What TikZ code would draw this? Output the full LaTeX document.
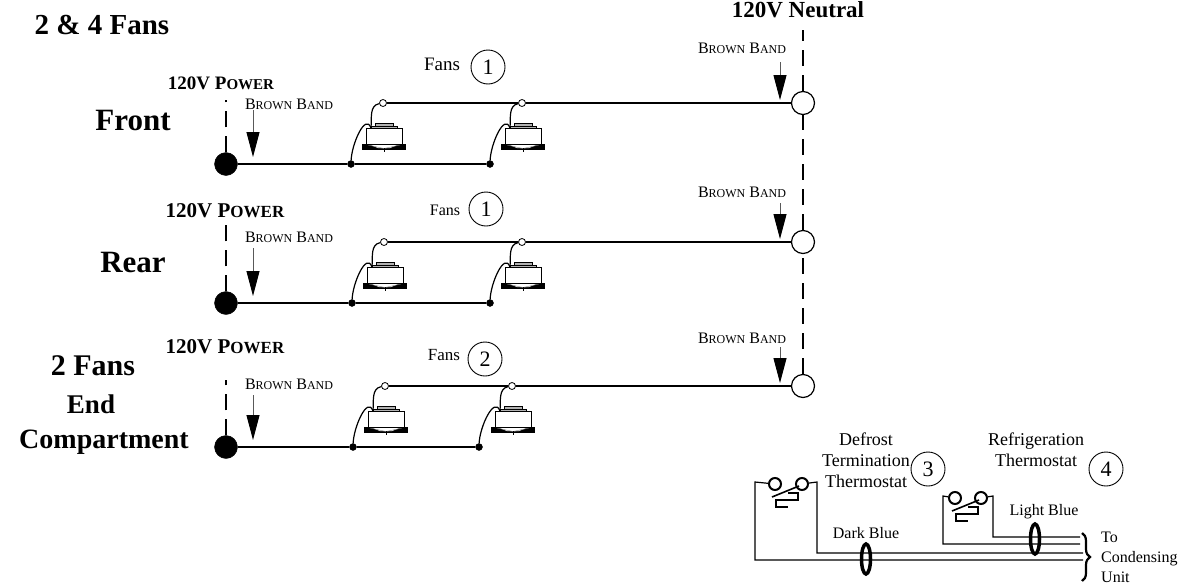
\documentclass[tikz,border=0pt]{standalone}
\usepackage{fontspec}
\setmainfont{Liberation Serif}
\usetikzlibrary{arrows.meta,decorations.pathreplacing,shapes.geometric}

\newcommand{\fsz}[1]{\fontsize{#1}{#1}\selectfont}
\newcommand{\smc}[2]{{\fsz{#1}#2}}

\tikzset{
  wire/.style={line width=1.2pt},
  hotwire/.style={line width=2.2pt},
  dashwire/.style={line width=2.2pt,dash pattern=on 16pt off 9pt},
  band/.style={gray!70!black,line width=1pt,-{Triangle[length=25pt,width=13pt,black]}},
  tie/.style={draw,line width=3.5pt,ellipse,minimum width=9pt,minimum height=30pt,inner sep=0pt,fill=none},
  power/.style={circle,draw,fill=black,minimum size=23pt,inner sep=0pt},
  neutral/.style={circle,draw,fill=white,line width=1.2pt,minimum size=23pt,inner sep=0pt},
  junct/.style={circle,draw,fill=black,minimum size=7pt,inner sep=0pt},
  openpt/.style={circle,draw,fill=white,line width=.8pt,minimum size=7pt,inner sep=0pt},
  callout/.style={circle,draw,line width=.9pt,minimum size=34pt,inner sep=0pt,font=\fsz{22}},
  contact/.style={circle,draw,line width=2pt,minimum size=12pt,inner sep=0pt},
  head/.style={font=\fsz{29}\bfseries,inner sep=0pt},
  small/.style={font=\fsz{16},inner sep=0pt,align=center},
  fan/.pic={
    \fill[black] (-22,16) rectangle (22,22);
    \fill[white] (-16,16) -- (16,16) -- (6,20) -- (-6,20) -- cycle;
    \draw[gray] (-16,17) -- (0,20.5) -- (16,17);
    \draw[line width=1pt] (0,20) -- (0,24);
    \draw[line width=.8pt,fill=gray!60] (-9,-5) rectangle (9,-2);
    \draw[line width=.8pt,fill=gray!60] (-13,-2) rectangle (13,0);
    \draw[fill=white,line width=1pt] (-18,0) rectangle (18,16);
    \coordinate (-t) at (-13,0);
  },
  switch/.pic={
    \draw[line width=1.6pt] (-15,13) -- (12,2);
    \draw[line width=1.3pt] (1,9) -- (11,9) -- (11,16) -- (-11,16) -- (-11,23) -- (1,23);
  },
}

\begin{document}
\begin{tikzpicture}[x=1pt,y=-1pt]
\useasboundingbox (0,0) rectangle (1181,584);

% neutral bus
\coordinate (ntop) at (803,30);
\foreach \r/\yb/\yt/\xa/\xb/\fa/\fb/\yh/\ya/\yc/\yd/\yn/\ye/\yf in {
  1/164/103/351/490/384/523/100/110/157/48/62/100/104,
  2/303/242/352/490/385/523/225/248/296/192/203/239/237,
  3/447/386/353/479/386/513/380/395/440/338/347/383/384}{
  \node[power] (p\r) at (226,\yb) {};
  \node[neutral] (n\r) at (803,\yt) {};
  \node[junct] (ja\r) at (\xa,\yb) {};
  \node[junct] (jb\r) at (\xb,\yb) {};
  \node[openpt] (oa\r) at (\fa-1,\yt) {};
  \node[openpt] (ob\r) at (\fb-1,\yt) {};
  \pic (fa\r) at (\fa,\yt+25) {fan};
  \pic (fb\r) at (\fb,\yt+25) {fan};
  \draw[wire] (p\r) -- (ja\r) -- (jb\r);
  \draw[hotwire] (oa\r) -- (ob\r) -- (n\r);
  \draw[wire] (ja\r) to[out=88,in=110,looseness=1.1] (fa\r-t);
  \draw[wire] (jb\r) to[out=88,in=110,looseness=1.1] (fb\r-t);
  \draw[wire] (oa\r) to[out=190,in=85] (fa\r-t);
  \draw[wire] (ob\r) to[out=190,in=85] (fb\r-t);
  \coordinate (dt\r) at (226,\yh);
  \draw[dashwire] (p\r) -- (dt\r);
  \coordinate (as\r) at (253,\ya);
  \coordinate (ae\r) at (253,\yc);
  \draw[band] (as\r) -- (ae\r);
  \coordinate (bs\r) at (780,\yn);
  \coordinate (be\r) at (780,\ye);
  \draw[band] (bs\r) -- (be\r);
  \node[small] (bl\r) at (742,\yd) {B\smc{12}{ROWN} B\smc{12}{AND}};
  \node[small] (al\r) at (289,\yf) {B\smc{12}{ROWN} B\smc{12}{AND}};
}
\draw[dashwire] (n1) -- (ntop);
\draw[dashwire] (n2) -- (n1);
\draw[dashwire] (n3) -- (n2);

% titles
\node[head] (title) at (102,25) {2 \& 4 Fans};
\node[head,font=\fsz{23}\bfseries] (neut) at (798,10) {120V Neutral};
\node[head,font=\fsz{31}\bfseries] (front) at (133,120) {Front};
\node[head,font=\fsz{31}\bfseries] (rear) at (133,262) {Rear};
\node[head,font=\fsz{30}\bfseries] (two) at (93,366) {2 Fans};
\node[head,font=\fsz{27}\bfseries] (endc) at (91,404) {End};
\node[head,font=\fsz{28}\bfseries] (comp) at (104,442) {Compartment};
\foreach \x/\y/\n/\sa/\sb in {221/83/a/19/15,225/211/b/21/17,225/347/c/21/17}
  \node[head,font=\fsz{\sa}\bfseries] (pw\n) at (\x,\y) {120V P{\fsz{\sb}OWER}};

% fan callouts
\node[font=\fsz{19},inner sep=0pt] (fl1) at (442,64) {Fans};
\node[callout] (c1) at (488,67) {1};
\node[small] (fl2) at (445,210) {Fans};
\node[callout] (c2) at (486,209) {1};
\node[small,font=\fsz{17}] (fl3) at (444,355) {Fans};
\node[callout] (c3) at (485,359) {2};

% thermostats
\node[small,font=\fsz{18},align=center] (dtt) at (866,460) {Defrost\\[3pt]Termination\\[3pt]Thermostat};
\node[callout] (c4) at (928,469) {3};
\node[small,font=\fsz{18},align=center] (rt) at (1036,450) {Refrigeration\\[3pt]Thermostat};
\node[callout] (c5) at (1106,469) {4};
\node[contact] (sa) at (775,484) {};
\node[contact] (sb) at (802,484) {};
\node[contact] (sc) at (955,498) {};
\node[contact] (sd) at (981,498) {};
\pic at (787,484) {switch};
\pic at (967,498) {switch};
\coordinate (e1) at (1083,560);
\coordinate (e2) at (1083,553);
\coordinate (e3) at (1080,544);
\coordinate (e4) at (1080,537);
\draw[wire] (sa) -- (755,482) |- (e1);
\draw[wire] (sb) -- (817,482) |- (e2);
\draw[wire] (sc) -- (943,496) |- (e3);
\draw[wire] (sd) -- (993,496) |- (e4);
\node[tie] (t1) at (866,559) {};
\node[tie] (t2) at (1035,539) {};
\node[small] (dbl) at (866,533) {Dark Blue};
\node[small] (lbl) at (1044,512) {Light Blue};
\coordinate (ba) at (1082,533);
\coordinate (bb) at (1082,581);
\draw[line width=2.2pt,decorate,decoration={brace,amplitude=8pt}] (ba) -- (bb);
\node[small,align=left,anchor=west] (tcu) at (1101,557) {To\\[4pt]Condensing\\[4pt]Unit};
\end{tikzpicture}
\end{document}
